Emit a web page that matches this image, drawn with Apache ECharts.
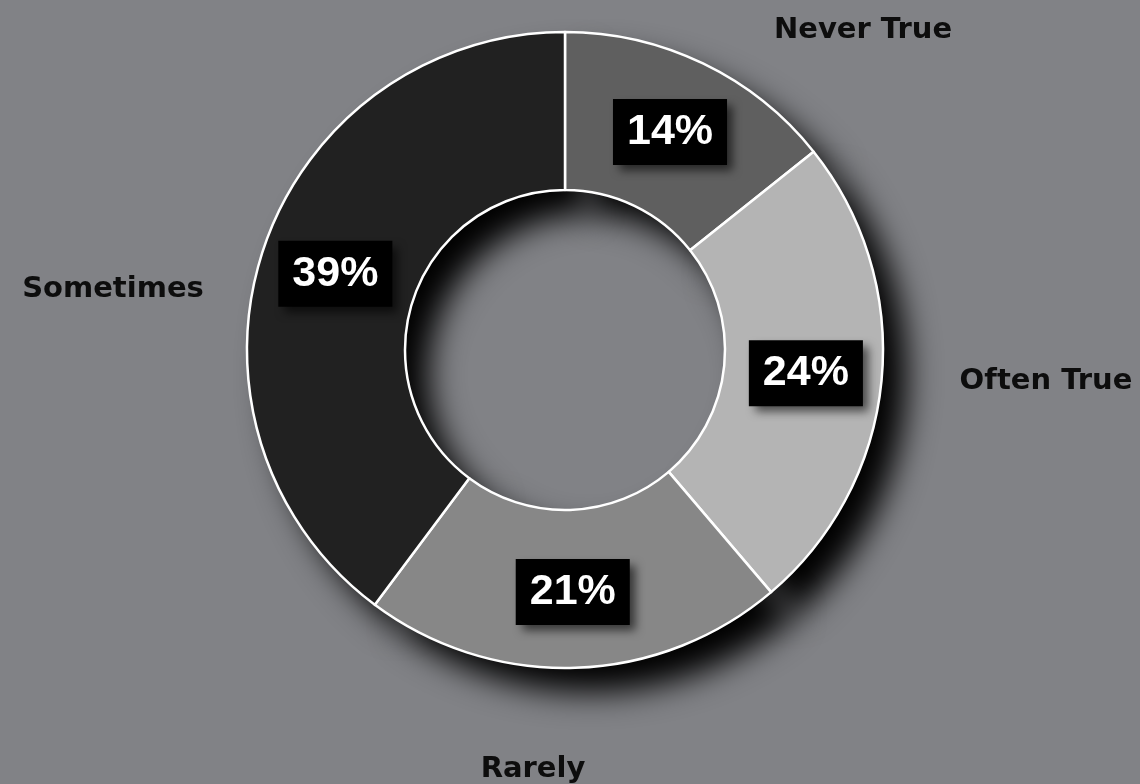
<!DOCTYPE html>
<html>
<head>
<meta charset="utf-8">
<script src="https://cdn.jsdelivr.net/npm/echarts@6/dist/echarts.min.js"></script>
<style>
  html, body { margin: 0; padding: 0; background: #818286; }
  #chart { width: 1140px; height: 784px; }
</style>
</head>
<body>
<div id="chart"></div>
<script>
// answers and their shares (%)
const categories = ['Never True', 'Often True', 'Rarely', 'Sometimes']
const shares = [14, 24, 21, 39]

// slice fills and where the outer name labels sit
const sliceColors = ['#5f5f5f', '#b4b4b4', '#878787', '#212121']
const nameSpots = [[863, 30], [1046, 381], [533, 769], [113, 289]]

const chart = echarts.init(document.getElementById('chart'))

const baseData = categories.map((name, i) => ({ name, value: shares[i] }))
const topData = categories.map((name, i) => ({
  name,
  value: shares[i],
  itemStyle: { color: sliceColors[i] }
}))

const option = {
  backgroundColor: '#818286',
  animation: false,
  series: [
    {
      // shadow ring underneath + category names
      type: 'pie',
      silent: true,
      center: [565, 350],
      radius: [160, 318],
      startAngle: 90,
      itemStyle: {
        color: '#1c1c1c',
        shadowBlur: 32,
        shadowColor: 'rgba(0,0,0,1)',
        shadowOffsetX: 24,
        shadowOffsetY: 24
      },
      label: {
        show: true,
        position: 'outside',
        formatter: '{b}',
        fontFamily: 'DejaVu Sans',
        fontWeight: 'bold',
        fontSize: 29,
        color: '#0d0d0d'
      },
      labelLine: { show: false },
      labelLayout: function (params) {
        const spot = nameSpots[params.dataIndex]
        return { x: spot[0], y: spot[1], align: 'center', verticalAlign: 'middle' }
      },
      data: baseData
    },
    {
      type: 'pie',
      silent: true,
      center: [565, 350],
      radius: [160, 318],
      startAngle: 90,
      itemStyle: {
        borderColor: '#ffffff',
        borderWidth: 2.5
      },
      label: {
        show: true,
        position: 'inside',
        formatter: '{c}%',
        fontFamily: 'Liberation Sans',
        fontWeight: 'bold',
        fontSize: 43,
        lineHeight: 49,
        color: '#ffffff',
        backgroundColor: '#000000',
        padding: [9, 14, 8, 14],
        shadowColor: 'rgba(0,0,0,0.6)',
        shadowBlur: 9,
        shadowOffsetX: 6,
        shadowOffsetY: 6
      },
      labelLine: { show: false },
      data: topData
    }
  ]
}

chart.setOption(option)
</script>
</body>
</html>
